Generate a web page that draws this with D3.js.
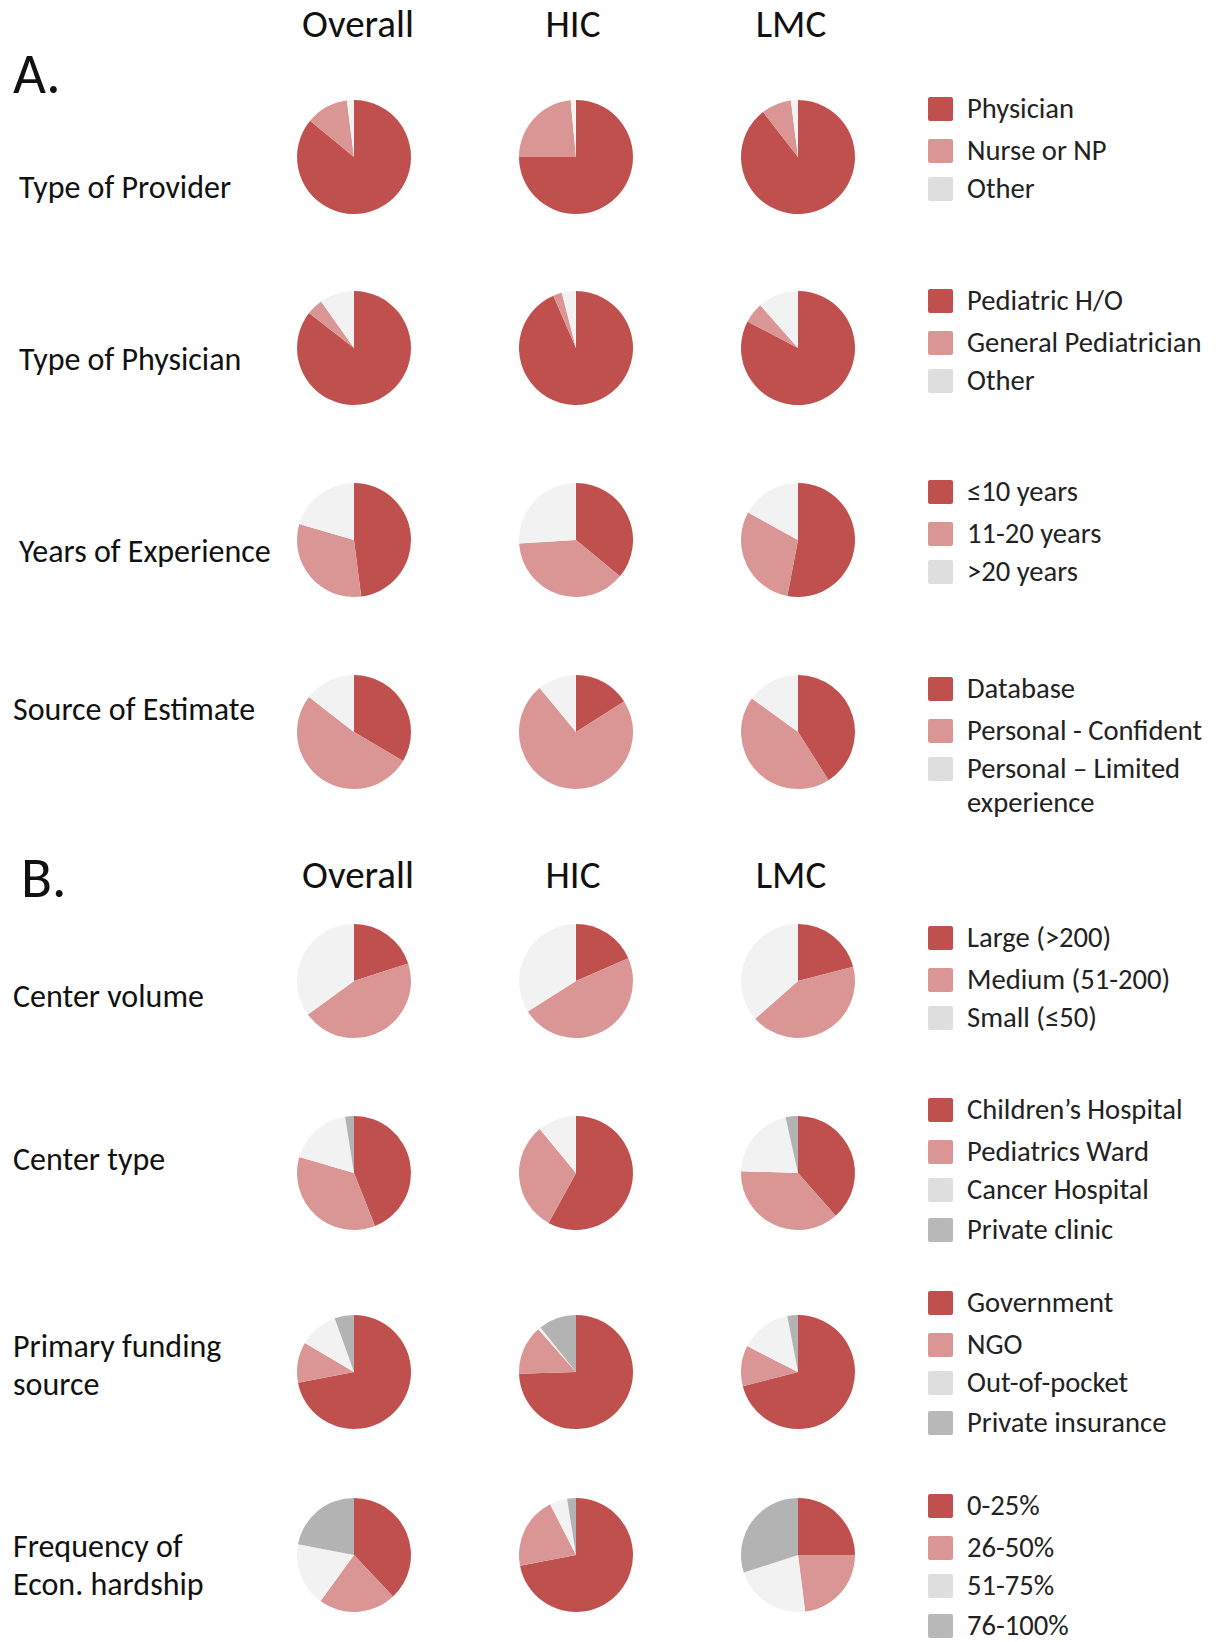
<!DOCTYPE html>
<html>
<head>
<meta charset="utf-8">
<script src="https://cdn.jsdelivr.net/npm/d3@7"></script>
<style>
  html, body { margin: 0; padding: 0; background: #ffffff; }
  svg { display: block; font-family: Carlito, Lato, "Open Sans", sans-serif; }
</style>
</head>
<body>
<svg id="chart" width="1222" height="1642"></svg>
<script>
// Column groups shown for every question
const columns = ["Overall", "HIC", "LMC"];

// Part A: respondent characteristics (percent of respondents, Overall / HIC / LMC)
const providerLabels = ["Physician", "Nurse or NP", "Other"];
const providerValues = [[86, 12, 2], [75, 23.5, 1.5], [89.5, 8.5, 2]];

const physicianLabels = ["Pediatric H/O", "General Pediatrician", "Other"];
const physicianValues = [[85.5, 4.7, 9.8], [93.5, 2.5, 4], [82.7, 5.8, 11.5]];

const experienceLabels = ["\u226410 years", "11-20 years", ">20 years"];
const experienceValues = [[48, 31.5, 20.5], [36, 38, 26], [53, 30, 17]];

const estimateLabels = ["Database", "Personal - Confident", "Personal \u2013 Limited experience"];
const estimateValues = [[33.5, 52, 14.5], [16, 73, 11], [41, 44, 15]];

// Part B: center characteristics
const volumeLabels = ["Large (>200)", "Medium (51-200)", "Small (\u226450)"];
const volumeValues = [[20, 45, 35], [18.5, 47.5, 34], [21, 42.5, 36.5]];

const centerTypeLabels = ["Children\u2019s Hospital", "Pediatrics Ward", "Cancer Hospital", "Private clinic"];
const centerTypeValues = [[44, 35.5, 18, 2.5], [58, 31, 11, 0], [38.5, 37, 21, 3.5]];

const fundingLabels = ["Government", "NGO", "Out-of-pocket", "Private insurance"];
const fundingValues = [[72, 11.5, 11, 5.5], [74.5, 14, 0.8, 10.7], [71, 11.5, 14.5, 3]];

const hardshipLabels = ["0-25%", "26-50%", "51-75%", "76-100%"];
const hardshipValues = [[38, 22, 18, 22], [72, 20.5, 5, 2.5], [25, 23, 22, 30]];

const rowTitles = [
  ["Type of Provider"], ["Type of Physician"], ["Years of Experience"], ["Source of Estimate"],
  ["Center volume"], ["Center type"], ["Primary funding", "source"], ["Frequency of", "Econ. hardship"]
];

// Slice colours by category position
const sliceColors = ["#C0504D", "#D99694", "#F2F2F2", "#B3B3B3"];
const swatchColors = ["#C0504D", "#D99694", "#DEDEDE", "#B8B8B8"];

const rows = [
  { title: rowTitles[0], labels: providerLabels, values: providerValues },
  { title: rowTitles[1], labels: physicianLabels, values: physicianValues },
  { title: rowTitles[2], labels: experienceLabels, values: experienceValues },
  { title: rowTitles[3], labels: estimateLabels, values: estimateValues },
  { title: rowTitles[4], labels: volumeLabels, values: volumeValues },
  { title: rowTitles[5], labels: centerTypeLabels, values: centerTypeValues },
  { title: rowTitles[6], labels: fundingLabels, values: fundingValues },
  { title: rowTitles[7], labels: hardshipLabels, values: hardshipValues }
];

// ---- layout ----
const svg = d3.select("#chart");
const radius = 57;
const rowY = [157, 348, 540, 732, 981, 1173, 1372, 1555];
const titleX = [19, 19, 19, 13, 13, 13, 13, 13];
const titleBase = [198, 370, 562, 720, 1007, 1170, 1357, 1557];
const titleLine = 38;
const legendTop = [109, 301, 492, 689, 938, 1110, 1303, 1506];
const legendStep = [0, 42, 80, 120];
const headerShift = [4, -3, -7];

const x = d3.scalePoint().domain(columns).range([354, 798]);

const pie = d3.pie().sort(null).value(d => d);
const arc = d3.arc().innerRadius(0).outerRadius(radius);

// section letters and column headers
const sections = [
  { letter: "A.", lx: 13, ly: 93, hy: 37 },
  { letter: "B.", lx: 21, ly: 897, hy: 888 }
];
sections.forEach(s => {
  svg.append("text").attr("x", s.lx).attr("y", s.ly)
    .attr("font-size", 57).attr("fill", "#111").text(s.letter);
  svg.append("g").selectAll("text").data(columns).join("text")
    .attr("x", (d, j) => x(d) + headerShift[j]).attr("y", s.hy)
    .attr("text-anchor", "middle").attr("font-size", 39).attr("fill", "#111")
    .text(d => d);
});

rows.forEach((row, i) => {
  const cy = rowY[i];

  // row title (one or two lines)
  const t = svg.append("text").attr("font-size", 32).attr("fill", "#111");
  row.title.forEach((line, k) => {
    t.append("tspan").attr("x", titleX[i]).attr("y", titleBase[i] + k * titleLine).text(line);
  });

  // one pie per column
  columns.forEach((col, j) => {
    const g = svg.append("g").attr("transform", `translate(${x(col)},${cy})`);
    g.selectAll("path").data(pie(row.values[j])).join("path")
      .attr("d", arc)
      .attr("fill", (d, k) => sliceColors[k]);
  });

  // legend
  const lg = svg.append("g").attr("transform", `translate(928,${legendTop[i]})`);
  row.labels.forEach((lab, k) => {
    const yy = legendStep[k];
    lg.append("rect").attr("x", 0).attr("y", yy - 12).attr("width", 25).attr("height", 24)
      .attr("rx", 2).attr("fill", swatchColors[k]);
    const txt = lg.append("text").attr("x", 39).attr("y", yy + 9)
      .attr("font-size", 28.6).attr("fill", "#222");
    if (lab === "Personal \u2013 Limited experience") {
      txt.append("tspan").attr("x", 39).attr("y", yy + 9).text("Personal \u2013 Limited");
      txt.append("tspan").attr("x", 39).attr("y", yy + 43).text("experience");
    } else {
      txt.text(lab);
    }
  });
});
</script>
</body>
</html>
